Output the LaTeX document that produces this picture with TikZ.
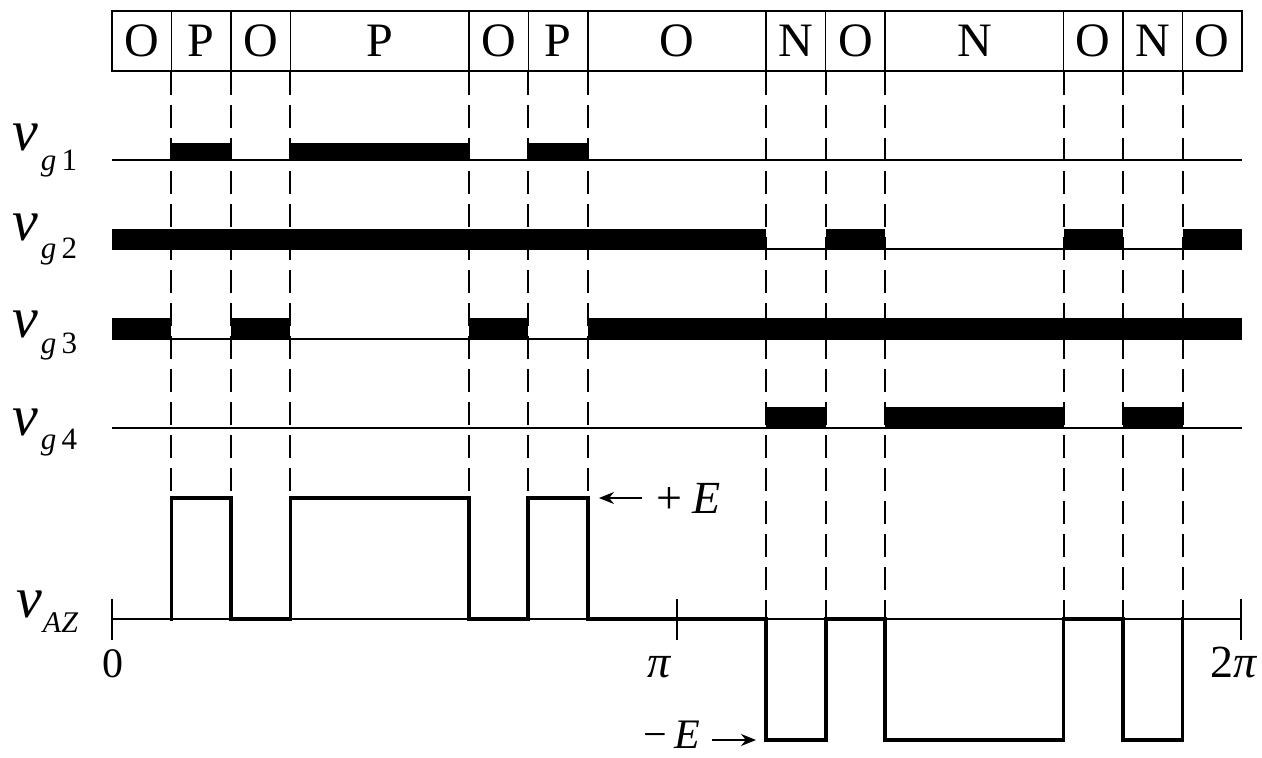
\documentclass[tikz,border=0pt]{standalone}
\usepackage{fontspec}
\setmainfont{Liberation Serif}
\usetikzlibrary{arrows.meta}
\newcommand\xx[1]{(112+(#1)*59.47368)}
\newcommand\vfont{\fontsize{58}{58}\selectfont\itshape}
\newcommand\sfont{\fontsize{31}{31}\selectfont}
\begin{document}
\begin{tikzpicture}[x=1pt,y=-1pt,
  cell/.style={draw, line width=1.5pt, inner sep=0pt, minimum height=60pt,
    font=\fontsize{48}{48}\selectfont},
  thinline/.style={line width=1.5pt},
  dashline/.style={line width=2pt, dash pattern=on 23pt off 10pt},
  wave/.style={line width=3.8pt, line join=miter, line cap=rect},
  bar/.style={fill=black},
  arr/.style={line width=1.5pt, -{Stealth[length=15pt,width=12pt]}},
  lab/.style={anchor=base west, inner sep=0pt},
]
\useasboundingbox (0,0) rectangle (1262,758);

% top row of cells
\foreach \a/\b/\t/\n in {0/1/O/c1,1/2/P/c2,2/3/O/c3,3/6/P/c4,6/7/O/c5,7/8/P/c6,8/11/O/c7,
  11/12/N/c8,12/13/O/c9,13/16/N/c10,16/17/O/c11,17/18/N/c12,18/19/O/c13}{
  \pgfmathsetmacro\w{(\b-\a)*59.47368}
  \pgfmathsetmacro\m{112+(\a+\b)/2*59.47368}
  \node[cell, minimum width=\w pt] (\n) at (\m,41) {\t};
}

% dashed boundaries
\foreach \i/\e in {1/498,2/498,3/498,6/498,7/498,8/498,11/619,12/619,13/619,16/619,17/619,18/619}{
  \draw[dashline] ({\xx{\i}},72) -- ({\xx{\i}},\e);
}

% gate signal rows: baselines
\draw[thinline] (112,160) -- (1242,160);
\draw[thinline] (112,249) -- (1242,249);
\draw[thinline] (112,339) -- (1242,339);
\draw[thinline] (112,428) -- (1242,428);

% vg1 bars
\foreach \a/\b in {1/2,3/6,7/8}{\fill[bar] ({\xx{\a}},160) rectangle ({\xx{\b}},143);}
% vg2 bars
\foreach \a/\b in {0/11,12/13,16/17,18/19}{\fill[bar] ({\xx{\a}},250) rectangle ({\xx{\b}},229);}
% vg3 bars
\foreach \a/\b in {0/1,2/3,6/7,8/19}{\fill[bar] ({\xx{\a}},340) rectangle ({\xx{\b}},318);}
% vg4 bars
\foreach \a/\b in {11/12,13/16,17/18}{\fill[bar] ({\xx{\a}},429) rectangle ({\xx{\b}},407);}

% labels
\node[lab] (lg1) at (12,150) {\vfont v\hspace{3pt}\raisebox{-20pt}{\sfont\itshape g\,\upshape 1}};
\node[lab] (lg2) at (12,240) {\vfont v\hspace{3pt}\raisebox{-18pt}{\sfont\itshape g\,\upshape 2}};
\node[lab] (lg3) at (12,337) {\vfont v\hspace{3pt}\raisebox{-16pt}{\sfont\itshape g\,\upshape 3}};
\node[lab] (lg4) at (12,435) {\vfont v\hspace{3pt}\raisebox{-14pt}{\sfont\itshape g\,\upshape 4}};
\node[lab] (laz) at (16,617) {\vfont v\hspace{1pt}\raisebox{-15pt}{\fontsize{30}{30}\selectfont\itshape AZ}};

% vAZ axis and ticks
\draw[thinline] (112,619) -- (1242,619);
\draw[thinline] (112,599) -- (112,640);
\draw[thinline] (677,599) -- (677,640);
\draw[thinline] (1241,599) -- (1241,640);
\node[anchor=base, inner sep=0pt, font=\fontsize{42}{42}\selectfont] (t0) at (113,677) {0};
\node[anchor=base, inner sep=0pt, font=\fontsize{46}{46}\selectfont\itshape] (tpi) at (659,677) {π};
\node[anchor=base, inner sep=0pt, font=\fontsize{46}{46}\selectfont] (t2pi) at (1234,677) {2\textit{π}};

% waveform
\draw[wave] ({\xx{1}},619) -- ({\xx{1}},498) -- ({\xx{2}},498) -- ({\xx{2}},619)
  -- ({\xx{3}},619) -- ({\xx{3}},498) -- ({\xx{6}},498) -- ({\xx{6}},619)
  -- ({\xx{7}},619) -- ({\xx{7}},498) -- ({\xx{8}},498) -- ({\xx{8}},619)
  -- ({\xx{11}},619) -- ({\xx{11}},740) -- ({\xx{12}},740) -- ({\xx{12}},619)
  -- ({\xx{13}},619) -- ({\xx{13}},740) -- ({\xx{16}},740) -- ({\xx{16}},619)
  -- ({\xx{17}},619) -- ({\xx{17}},740) -- ({\xx{18}},740) -- ({\xx{18}},619);

% +E and -E
\coordinate (pa) at (642,498);
\coordinate (pb) at (599,498);
\draw[arr] (pa) -- (pb);
\node[lab, font=\fontsize{46}{46}\selectfont] (pE) at (656,513) {+\hspace{10pt}\textit{E}};
\coordinate (ma) at (712,740);
\coordinate (mb) at (756,740);
\draw[arr] (ma) -- (mb);
\node[lab, font=\fontsize{42}{42}\selectfont] (mE) at (643,748) {−\hspace{8pt}\textit{E}};
\end{tikzpicture}
\end{document}
